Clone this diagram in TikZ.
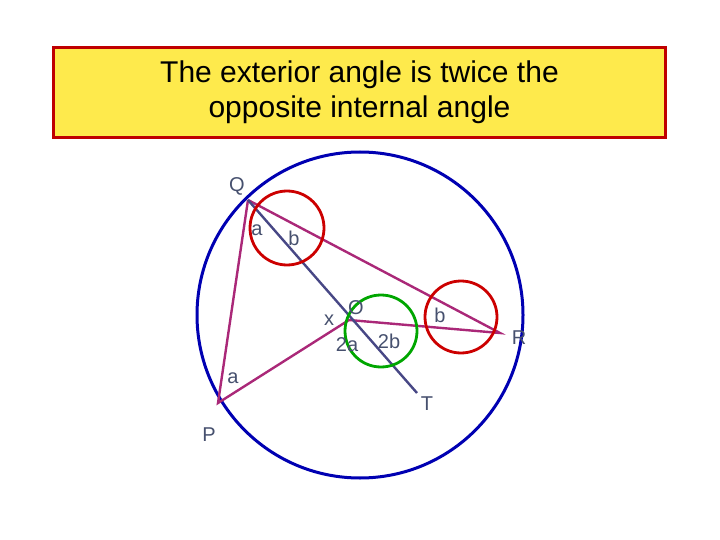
\documentclass[tikz,border=0pt]{standalone}
\usepackage{fontspec}
\setmainfont{Liberation Sans}
\definecolor{chordc}{RGB}{170,40,120}
\definecolor{lblc}{RGB}{70,80,110}
\begin{document}
\begin{tikzpicture}[x=1pt,y=-1pt,
  chord/.style={draw=chordc, line width=2.4pt},
  lbl/.style={font=\fontsize{20}{22}\selectfont, text=lblc},
  ring/.style={line width=2.8pt}]
\useasboundingbox (0,0) rectangle (720,540);
\node[draw=red!75!black, line width=2.4pt, fill=yellow!85!orange!70, minimum width=612, minimum height=90, align=center, font=\fontsize{30}{35}\selectfont] (title) at (359.5,92.5) {The exterior angle is twice the\\opposite internal angle};
\node[draw=blue!70!black, line width=3pt, circle, minimum size=326, inner sep=0] (c) at (360,315) {};
\coordinate (Q) at (248,200);
\coordinate (P) at (218,403);
\coordinate (R) at (500,333);
\coordinate (O) at (349,320);
\coordinate (T) at (417,393);
\draw[chord] (Q) -- (P) -- (O) -- (R) -- (Q);
\draw[draw=blue!30!gray!80!black, line width=2.4pt] (Q) -- (T);
\node[circle, draw=red!80!black, ring, minimum size=74] (c1) at (287,228) {};
\node[circle, draw=red!80!black, ring, minimum size=72] (c2) at (461,317) {};
\node[circle, draw=green!65!black, ring, minimum size=72] (c3) at (381,331) {};
\node[lbl] (lQ) at (237,186) {Q};
\node[lbl] (la1) at (257,230) {a};
\node[lbl] (lb1) at (294,238) {b};
\node[lbl] (lx) at (329,320) {x};
\node[lbl] (lO) at (356,308) {O};
\node[lbl] (lb2) at (440,315) {b};
\node[lbl] (lR) at (519,338) {R};
\node[lbl] (l2a) at (347,345) {2a};
\node[lbl] (l2b) at (389,341) {2b};
\node[lbl] (la2) at (233,378) {a};
\node[lbl] (lT) at (427,404) {T};
\node[lbl] (lP) at (209,435) {P};
\end{tikzpicture}
\end{document}
